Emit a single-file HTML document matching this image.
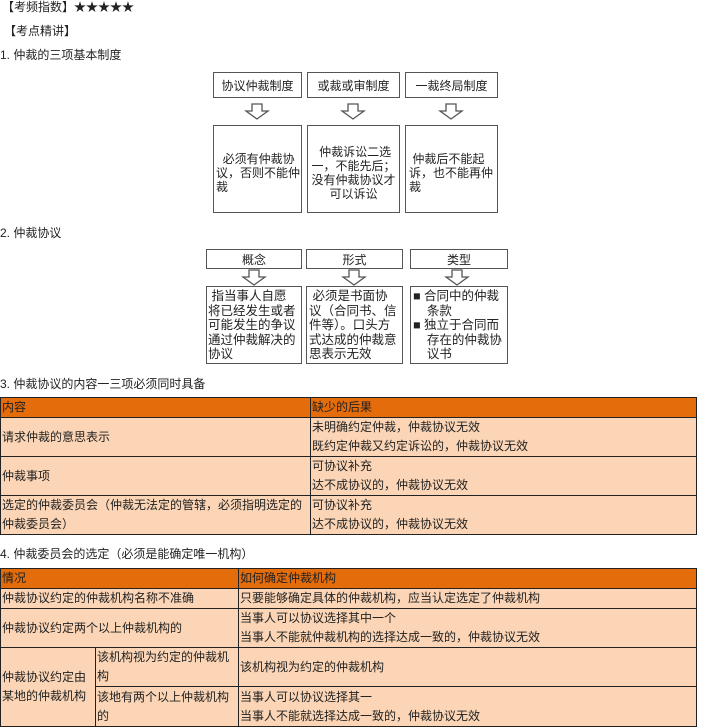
<!DOCTYPE html>
<html><head><meta charset="utf-8"><style>
*{margin:0;padding:0;box-sizing:border-box}
body{width:714px;height:726px;background:#fff;position:relative;overflow:hidden;font-family:"Liberation Sans","Noto Sans CJK SC",sans-serif;font-size:12px;color:#222}
.t{position:absolute;white-space:nowrap;line-height:14px}
.b{position:absolute;border:1.5px solid #555;background:#fff;font-size:12px;color:#222;white-space:nowrap}
.h{display:flex;align-items:center;justify-content:center}
.arr{position:absolute}
table{position:absolute;left:0;border-collapse:collapse;font-size:12px;width:697px}
td{border:1px solid #222;background:#fbd5b5;vertical-align:middle;padding:0 1px;line-height:19px}
tr.hd td{background:#e46c0a;color:#222}
</style></head><body>
<div class="t" style="left:2px;top:0">【考频指数】★★★★★</div>
<div class="t" style="left:4px;top:24px">【考点精讲】</div>
<div class="t" style="left:0;top:48px">1. 仲裁的三项基本制度</div>

<div class="b h" style="left:213px;top:72px;width:89px;height:26px">协议仲裁制度</div>
<div class="b h" style="left:307px;top:72px;width:93px;height:26px">或裁或审制度</div>
<div class="b h" style="left:405px;top:72px;width:93px;height:26px">一裁终局制度</div>
<svg class="arr" style="left:0;top:0" width="714" height="726">
<g fill="#fff" stroke="#555" stroke-width="1.3">
<path d="M252 104h10v7h6l-11 8l-11-8h6z"/>
<path d="M348 104h10v7h6l-11 8l-11-8h6z"/>
<path d="M446 104h10v7h6l-11 8l-11-8h6z"/>
<path d="M249 270h10v7h6l-11 8l-11-8h6z"/>
<path d="M349 270h10v7h6l-11 8l-11-8h6z"/>
<path d="M452 270h10v7h6l-11 8l-11-8h6z"/>
</g></svg>
<div class="b" style="left:213px;top:125px;width:89px;height:88px;padding:26px 1px 0 2px;line-height:14px">&nbsp;&nbsp;必须有仲裁协<br>议，否则不能仲<br>裁</div>
<div class="b" style="left:307px;top:125px;width:93px;height:88px;padding:19px 1px 0 1px;line-height:14px;text-align:center">&nbsp;仲裁诉讼二选<br>一，不能先后；<br>没有仲裁协议才<br>可以诉讼</div>
<div class="b" style="left:405px;top:125px;width:93px;height:88px;padding:26px 1px 0 3px;line-height:14px">&nbsp;仲裁后不能起<br>诉，也不能再仲<br>裁</div>

<div class="t" style="left:0;top:226px">2. 仲裁协议</div>
<div class="b h" style="left:206px;top:249px;width:96px;height:20px">概念</div>
<div class="b h" style="left:306px;top:249px;width:97px;height:20px">形式</div>
<div class="b h" style="left:410px;top:249px;width:98px;height:20px">类型</div>
<div class="b" style="left:206px;top:286px;width:96px;height:78px;padding:2px 1px;line-height:14.5px;font-size:12.5px">&nbsp;指当事人自愿<br>将已经发生或者<br>可能发生的争议<br>通过仲裁解决的<br>协议</div>
<div class="b" style="left:306px;top:286px;width:97px;height:78px;padding:2px 2px;line-height:14.5px;font-size:12.5px">&nbsp;必须是书面协<br>议（合同书、信<br>件等）。口头方<br>式达成的仲裁意<br>思表示无效</div>
<div class="b" style="left:410px;top:286px;width:98px;height:78px;padding:2px 2px;line-height:14.5px;font-size:12.5px">■ 合同中的仲裁<br>&nbsp;&nbsp;&nbsp;&nbsp;条款<br>■ 独立于合同而<br>&nbsp;&nbsp;&nbsp;&nbsp;存在的仲裁协<br>&nbsp;&nbsp;&nbsp;&nbsp;议书</div>

<div class="t" style="left:0;top:377px">3. 仲裁协议的内容一三项必须同时具备</div>
<table style="top:397px">
<colgroup><col style="width:310px"><col></colgroup>
<tr class="hd" style="height:19px"><td>内容</td><td>缺少的后果</td></tr>
<tr style="height:39px"><td>请求仲裁的意思表示</td><td>未明确约定仲裁，仲裁协议无效<br>既约定仲裁又约定诉讼的，仲裁协议无效</td></tr>
<tr style="height:39px"><td>仲裁事项</td><td>可协议补充<br>达不成协议的，仲裁协议无效</td></tr>
<tr style="height:39px"><td>选定的仲裁委员会（仲裁无法定的管辖，必须指明选定的仲裁委员会）</td><td>可协议补充<br>达不成协议的，仲裁协议无效</td></tr>
</table>

<div class="t" style="left:0;top:547px">4. 仲裁委员会的选定（必须是能确定唯一机构）</div>
<table style="top:568px">
<colgroup><col style="width:95px"><col style="width:143px"><col></colgroup>
<tr class="hd" style="height:20px"><td colspan="2">情况</td><td>如何确定仲裁机构</td></tr>
<tr style="height:20px"><td colspan="2">仲裁协议约定的仲裁机构名称不准确</td><td>只要能够确定具体的仲裁机构，应当认定选定了仲裁机构</td></tr>
<tr style="height:39px"><td colspan="2">仲裁协议约定两个以上仲裁机构的</td><td>当事人可以协议选择其中一个<br>当事人不能就仲裁机构的选择达成一致的，仲裁协议无效</td></tr>
<tr style="height:39px"><td rowspan="2">仲裁协议约定由某地的仲裁机构</td><td>该机构视为约定的仲裁机<br>构</td><td>该机构视为约定的仲裁机构</td></tr>
<tr style="height:40px"><td>该地有两个以上仲裁机构<br>的</td><td>当事人可以协议选择其一<br>当事人不能就选择达成一致的，仲裁协议无效</td></tr>
</table>
</body></html>
